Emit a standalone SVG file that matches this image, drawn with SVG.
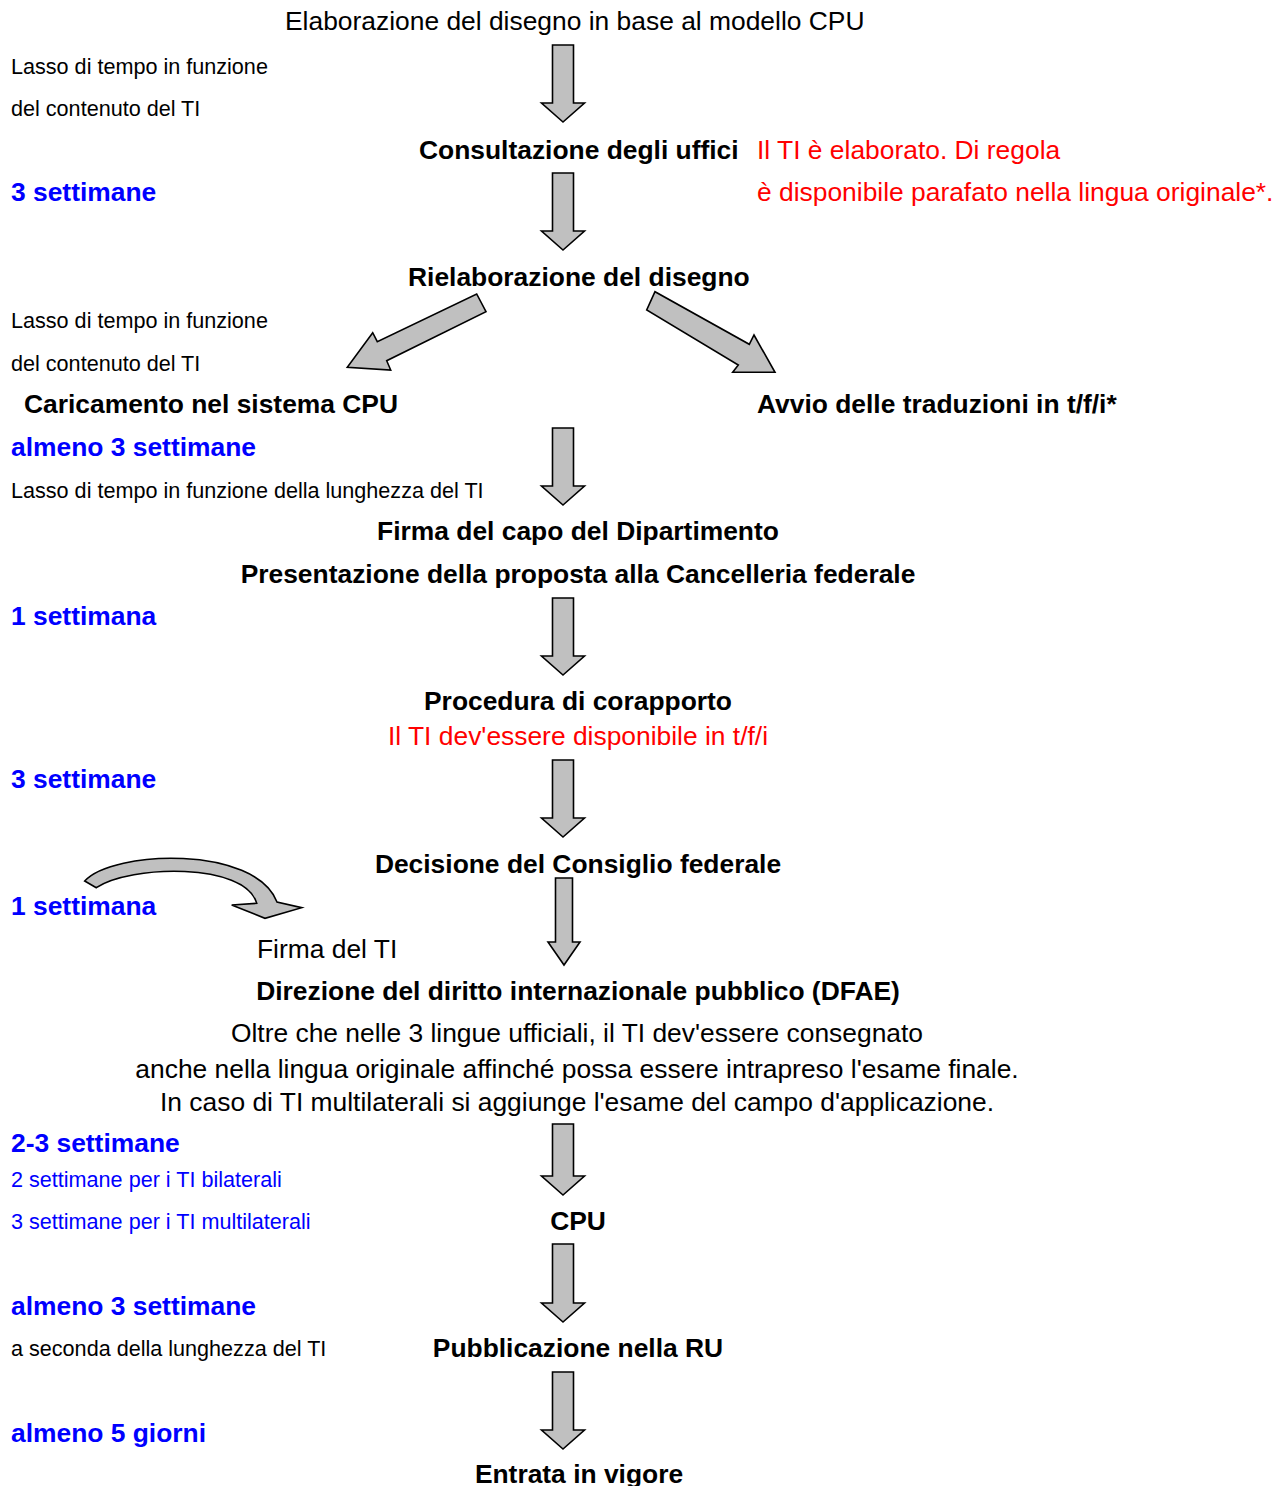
<svg xmlns="http://www.w3.org/2000/svg" width="1286" height="1486" viewBox="0 0 1286 1486">
<style>
text{font-family:"Liberation Sans",Arial,sans-serif;fill:#000}
.b{font-weight:bold;font-size:26.4px}
.r{font-size:26.4px}
.s{font-size:21.6px}
.blue{fill:#0000ff}
.red{fill:#ff0000}
.c{text-anchor:middle}
.arr{fill:#c0c0c0;stroke:#000;stroke-width:1.6;stroke-linejoin:miter}
</style>
<rect width="1286" height="1486" fill="#fff"/>
<g id="connectors">
<polygon class="arr" points="552.5,45 573.5,45 573.5,103 584.5,103 563,122 541.5,103 552.5,103"/>
<polygon class="arr" points="552.5,173 573.5,173 573.5,231 584.5,231 563,250 541.5,231 552.5,231"/>
<polygon class="arr" points="476.7,294 486,311.7 386.7,360.7 390.7,370 347.3,367.3 372.7,332.7 377.3,341.7"/>
<polygon class="arr" points="655,291.7 646.7,310 738.3,365 732.7,372.3 775,372.3 754,335 749.3,344.3"/>
<polygon class="arr" points="552.5,428 573.5,428 573.5,486 584.5,486 563,505 541.5,486 552.5,486"/>
<polygon class="arr" points="552.5,598 573.5,598 573.5,656 584.5,656 563,675 541.5,656 552.5,656"/>
<polygon class="arr" points="552.5,760 573.5,760 573.5,818 584.5,818 563,837 541.5,818 552.5,818"/>
<polygon class="arr" points="555.5,878 572.5,878 572.5,942 580,942 564,965 548,942 555.5,942"/>
<polygon class="arr" points="552.5,1124 573.5,1124 573.5,1176 584.5,1176 563,1195 541.5,1176 552.5,1176"/>
<polygon class="arr" points="552.5,1244 573.5,1244 573.5,1303 584.5,1303 563,1322 541.5,1303 552.5,1303"/>
<polygon class="arr" points="552.5,1372 573.5,1372 573.5,1430 584.5,1430 563,1449 541.5,1430 552.5,1430"/>
<path class="arr" d="M84.7,881 C113,850 255,845 277,902 L301.7,907.7 L265,918.3 L231.7,905 L256.7,903.3 C245,862 130,865 96.3,887.7 Z"/>
</g>
<g id="n-title"><text class="r" x="285" y="30">Elaborazione del disegno in base al modello CPU</text></g>
<g id="n-lasso1"><text class="s" x="11" y="74">Lasso di tempo in funzione</text><text class="s" x="11" y="116">del contenuto del TI</text></g>
<g id="n-consultazione"><text class="b" x="419" y="159">Consultazione degli uffici</text></g>
<g id="n-note-elaborato"><text class="r red" x="757" y="159">Il TI è elaborato. Di regola</text><text class="r red" x="757" y="201">è disponibile parafato nella lingua originale*.</text></g>
<g id="n-t1"><text class="b blue" x="11" y="201">3 settimane</text></g>
<g id="n-rielaborazione"><text class="b" x="408" y="286">Rielaborazione del disegno</text></g>
<g id="n-lasso2"><text class="s" x="11" y="328">Lasso di tempo in funzione</text><text class="s" x="11" y="371">del contenuto del TI</text></g>
<g id="n-caricamento"><text class="b" x="24" y="413">Caricamento nel sistema CPU</text></g>
<g id="n-avvio"><text class="b" x="757" y="413">Avvio delle traduzioni in t/f/i*</text></g>
<g id="n-t2"><text class="b blue" x="11" y="456">almeno 3 settimane</text><text class="s" x="11" y="498">Lasso di tempo in funzione della lunghezza del TI</text></g>
<g id="n-firma-capo"><text class="b c" x="578" y="540">Firma del capo del Dipartimento</text><text class="b c" x="578" y="583">Presentazione della proposta alla Cancelleria federale</text></g>
<g id="n-t3"><text class="b blue" x="11" y="625">1 settimana</text></g>
<g id="n-corapporto"><text class="b c" x="578" y="710">Procedura di corapporto</text><text class="r red c" x="578" y="745">Il TI dev'essere disponibile in t/f/i</text></g>
<g id="n-t4"><text class="b blue" x="11" y="788">3 settimane</text></g>
<g id="n-decisione"><text class="b c" x="578" y="873">Decisione del Consiglio federale</text></g>
<g id="n-t5"><text class="b blue" x="11" y="915">1 settimana</text></g>
<g id="n-firma-ti"><text class="r" x="257" y="958">Firma del TI</text></g>
<g id="n-direzione"><text class="b c" x="578" y="1000">Direzione del diritto internazionale pubblico (DFAE)</text>
<text class="r c" x="577" y="1042">Oltre che nelle 3 lingue ufficiali, il TI dev'essere consegnato</text>
<text class="r c" x="577" y="1078">anche nella lingua originale affinché possa essere intrapreso l'esame finale.</text>
<text class="r c" x="577" y="1111">In caso di TI multilaterali si aggiunge l'esame del campo d'applicazione.</text></g>
<g id="n-t6"><text class="b blue" x="11" y="1152">2-3 settimane</text><text class="s blue" x="11" y="1187">2 settimane per i TI bilaterali</text><text class="s blue" x="11" y="1229">3 settimane per i TI multilaterali</text></g>
<g id="n-cpu"><text class="b c" x="578" y="1230">CPU</text></g>
<g id="n-t7"><text class="b blue" x="11" y="1315">almeno 3 settimane</text><text class="s" x="11" y="1356">a seconda della lunghezza del TI</text></g>
<g id="n-pubblicazione"><text class="b c" x="578" y="1357">Pubblicazione nella RU</text></g>
<g id="n-t8"><text class="b blue" x="11" y="1442">almeno 5 giorni</text></g>
<g id="n-vigore"><text class="b c" x="579" y="1483">Entrata in vigore</text></g>
</svg>
